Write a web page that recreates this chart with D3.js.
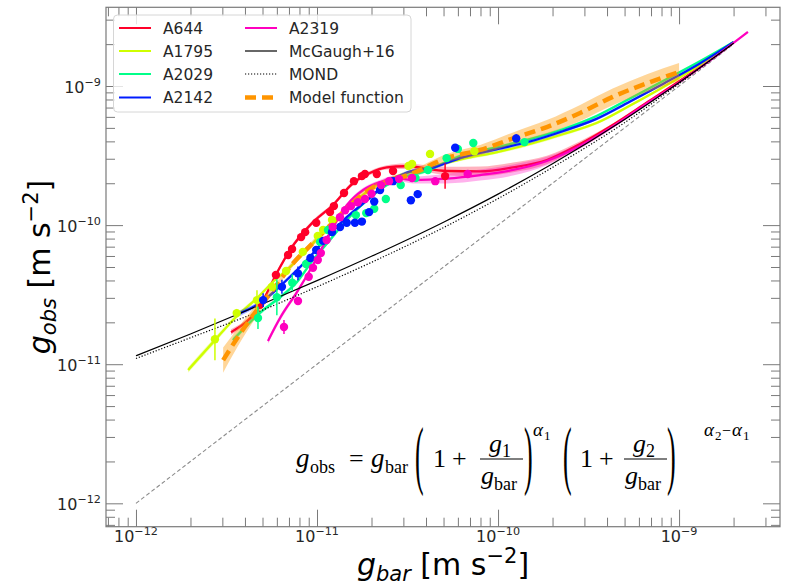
<!DOCTYPE html>
<html>
<head>
<meta charset="utf-8">
<script src="https://cdn.jsdelivr.net/npm/d3@7"></script>
<style>
  body { margin: 0; background: #fff; }
  svg { display: block; font-family: "DejaVu Sans", sans-serif; }
</style>
</head>
<body>
<div id="chart"></div>
<script>
// ---- data (gbar, gobs in m s^-2) ----
const clusterNames = ["A644", "A1795", "A2029", "A2142", "A2319"];
const clusterColors = ["#ff0029", "#cfff00", "#00ff89", "#001cff", "#ff00bf"];

// points: [gbar, gobs, error (dex)]
const a644Points = [
  [4.84e-12, 2.67e-11, 0], [5.93e-12, 4.38e-11, 0], [6.92e-12, 6.10e-11, 0],
  [7.28e-12, 6.73e-11, 0], [8.17e-12, 8.2e-11, 0], [8.6e-12, 8.9e-11, 0],
  [9.9e-12, 1.04e-10, 0], [1.18e-11, 1.24e-10, 0], [1.24e-11, 1.37e-10, 0],
  [1.41e-11, 1.70e-10, 0], [1.60e-11, 2.07e-10, 0], [1.77e-11, 2.25e-10, 0],
  [1.84e-11, 2.33e-10, 0], [2.14e-11, 2.33e-10, 0], [2.63e-11, 2.45e-10, 0],
  [5.1e-11, 2.25e-10, 0.09]
];
const a1795Points = [
  [2.73e-12, 1.51e-11, 0.15], [3.6e-12, 2.33e-11, 0.03], [4.66e-12, 2.89e-11, 0.07],
  [5.64e-12, 3.6e-11, 0], [6.75e-12, 4.68e-11, 0], [8.35e-12, 6.42e-11, 0],
  [1.01e-11, 8.35e-11, 0], [1.08e-11, 9.23e-11, 0], [1.21e-11, 1.09e-10, 0],
  [3.2e-11, 2.66e-10, 0], [3.35e-11, 2.75e-10, 0], [4.21e-11, 3.25e-10, 0],
  [7.4e-11, 3.4e-10, 0]
];
const a2029Points = [
  [4.72e-12, 2.15e-11, 0.08], [6.0e-12, 3.03e-11, 0.13], [7.3e-12, 3.85e-11, 0.06],
  [8.7e-12, 5.26e-11, 0], [1.04e-11, 7.55e-11, 0], [1.15e-11, 9.23e-11, 0],
  [1.64e-11, 1.18e-10, 0], [1.87e-11, 1.22e-10, 0], [2.07e-11, 1.31e-10, 0],
  [2.4e-11, 1.54e-10, 0], [2.9e-11, 1.94e-10, 0], [3.5e-11, 2.18e-10, 0],
  [4.1e-11, 2.49e-10, 0], [5.2e-11, 3.03e-10, 0], [6.0e-11, 3.53e-10, 0],
  [7.3e-11, 3.89e-10, 0], [1.4e-10, 3.95e-10, 0]
];
const a2142Points = [
  [5.04e-12, 2.89e-11, 0.05], [6.4e-12, 3.6e-11, 0.05], [7.85e-12, 4.5e-11, 0.05],
  [9.2e-12, 5.8e-11, 0], [9.9e-12, 6.63e-11, 0], [1.08e-11, 7.7e-11, 0],
  [1.21e-11, 8.9e-11, 0], [1.34e-11, 9.7e-11, 0], [1.46e-11, 1.04e-10, 0],
  [1.62e-11, 1.04e-10, 0], [1.77e-11, 1.06e-10, 0], [1.94e-11, 1.24e-10, 0],
  [2.07e-11, 1.48e-10, 0], [2.23e-11, 1.79e-10, 0], [2.63e-11, 2.07e-10, 0],
  [3.3e-11, 1.51e-10, 0], [3.6e-11, 1.67e-10, 0], [5.8e-11, 3.6e-10, 0],
  [1.26e-10, 4.2e-10, 0.03]
];
const a2319Points = [
  [6.57e-12, 1.85e-11, 0.05], [7.85e-12, 2.85e-11, 0], [9.0e-12, 4.25e-11, 0],
  [9.5e-12, 4.93e-11, 0], [1.01e-11, 5.61e-11, 0], [1.05e-11, 6.3e-11, 0],
  [1.13e-11, 7.82e-11, 0], [1.22e-11, 9.7e-11, 0], [1.34e-11, 1.14e-10, 0],
  [1.43e-11, 1.28e-10, 0], [1.54e-11, 1.37e-10, 0], [1.68e-11, 1.46e-10, 0],
  [1.84e-11, 1.54e-10, 0], [2.0e-11, 1.68e-10, 0], [2.26e-11, 1.94e-10, 0],
  [2.5e-11, 2.07e-10, 0], [2.84e-11, 2.15e-10, 0], [3.35e-11, 2.18e-10, 0],
  [4.5e-11, 2.07e-10, 0], [6.8e-11, 2.33e-10, 0]
];

// fitted curves: [gbar, gobs, band half-width (dex)]
const a644Curve = [
  [3.35e-12, 1.70e-11, 0.02], [4.84e-12, 2.62e-11, 0.015], [6.0e-12, 4.53e-11, 0.015],
  [7.1e-12, 6.63e-11, 0.015], [9.5e-12, 1.05e-10, 0.015], [1.22e-11, 1.39e-10, 0.015],
  [1.58e-11, 2.0e-10, 0.015], [1.96e-11, 2.37e-10, 0.015], [2.43e-11, 2.6e-10, 0.015],
  [3.06e-11, 2.65e-10, 0.02], [5.2e-11, 2.45e-10, 0.03], [7.96e-11, 2.43e-10, 0.035],
  [1.21e-10, 2.6e-10, 0.035], [1.86e-10, 2.94e-10, 0.03], [2.84e-10, 3.83e-10, 0.02],
  [4.3e-10, 5.25e-10, 0.01], [6.7e-10, 7.67e-10, 0.008], [1.01e-9, 1.09e-9, 0.005],
  [2.0e-9, 2.07e-9, 0.003]
];
const a1795Curve = [
  [1.94e-12, 9.08e-12, 0.02], [2.73e-12, 1.49e-11, 0.02], [3.66e-12, 2.26e-11, 0.015],
  [4.66e-12, 2.98e-11, 0.015], [5.7e-12, 3.9e-11, 0.012], [7.1e-12, 5.0e-11, 0.012],
  [8.8e-12, 6.63e-11, 0.012], [1.08e-11, 8.9e-11, 0.012], [1.34e-11, 1.18e-10, 0.012],
  [1.73e-11, 1.59e-10, 0.012], [2.23e-11, 2.0e-10, 0.012], [2.88e-11, 2.29e-10, 0.012],
  [3.71e-11, 2.49e-10, 0.012], [6.4e-11, 2.99e-10, 0.012], [9.9e-11, 3.35e-10, 0.012],
  [1.5e-10, 3.83e-10, 0.012], [2.3e-10, 4.52e-10, 0.012], [3.5e-10, 5.42e-10, 0.01],
  [5.3e-10, 7.18e-10, 0.01], [8.2e-10, 9.84e-10, 0.008], [1.31e-9, 1.42e-9, 0.005],
  [2.0e-9, 2.07e-9, 0.003]
];
const a2029Curve = [
  [3.43e-12, 1.49e-11, 0.02], [5.04e-12, 2.45e-11, 0.015], [6.25e-12, 3.03e-11, 0.015],
  [7.75e-12, 3.9e-11, 0.015], [9.5e-12, 5.61e-11, 0.012], [1.18e-11, 7.82e-11, 0.012],
  [1.46e-11, 1.09e-10, 0.012], [1.89e-11, 1.51e-10, 0.012], [2.43e-11, 1.94e-10, 0.012],
  [3.1e-11, 2.25e-10, 0.012], [3.71e-11, 2.37e-10, 0.012], [6.4e-11, 3.19e-10, 0.012],
  [9.9e-11, 3.64e-10, 0.012], [1.5e-10, 4.15e-10, 0.012], [2.3e-10, 4.91e-10, 0.012],
  [3.5e-10, 6.08e-10, 0.01], [5.3e-10, 8.07e-10, 0.01], [8.2e-10, 1.09e-9, 0.008],
  [1.31e-9, 1.51e-9, 0.005], [2.0e-9, 2.07e-9, 0.003]
];
const a2142Curve = [
  [3.76e-12, 2.33e-11, 0.02], [4.84e-12, 2.75e-11, 0.015], [6.8e-12, 4.03e-11, 0.015],
  [8.8e-12, 5.61e-11, 0.012], [1.14e-11, 8.2e-11, 0.012], [1.46e-11, 1.14e-10, 0.012],
  [1.89e-11, 1.51e-10, 0.012], [2.43e-11, 2.0e-10, 0.012], [3.1e-11, 2.37e-10, 0.012],
  [4.4e-11, 2.6e-10, 0.012], [6.4e-11, 3.08e-10, 0.012], [9.9e-11, 3.52e-10, 0.012],
  [1.5e-10, 3.99e-10, 0.012], [2.3e-10, 4.75e-10, 0.012], [3.5e-10, 5.8e-10, 0.01],
  [5.3e-10, 7.67e-10, 0.01], [8.2e-10, 1.04e-9, 0.008], [1.31e-9, 1.46e-9, 0.005],
  [2.0e-9, 2.07e-9, 0.003]
];
const a2319Curve = [
  [5.36e-12, 1.47e-11, 0.02], [6.25e-12, 2.15e-11, 0.02], [7.75e-12, 3.3e-11, 0.015],
  [9.5e-12, 5.17e-11, 0.015], [1.18e-11, 8.8e-11, 0.015], [1.46e-11, 1.39e-10, 0.015],
  [1.8e-11, 1.79e-10, 0.015], [2.23e-11, 2.04e-10, 0.015], [2.75e-11, 2.18e-10, 0.02],
  [3.4e-11, 2.11e-10, 0.025], [5.2e-11, 2.16e-10, 0.035], [7.96e-11, 2.29e-10, 0.04],
  [1.21e-10, 2.49e-10, 0.04], [1.86e-10, 2.89e-10, 0.03], [2.84e-10, 3.7e-10, 0.02],
  [4.3e-10, 5.11e-10, 0.012], [6.7e-10, 7.55e-10, 0.008], [1.01e-9, 1.07e-9, 0.005],
  [2.0e-9, 2.04e-9, 0.003], [2.4e-9, 2.45e-9, 0.003]
];

// McGaugh+16 RAR and MOND curves
const mcgaughGbar = [1e-12, 2e-12, 5e-12, 1e-11, 2e-11, 5e-11, 1e-10, 2e-10, 5e-10, 1e-9, 2e-9];
const mcgaughGobs = [1.15e-11, 1.65e-11, 2.71e-11, 3.99e-11, 5.97e-11, 1.05e-10, 1.67e-10, 2.76e-10, 5.75e-10, 1.06e-9, 2.03e-9];
const mondGbar = [1e-12, 2e-12, 5e-12, 1e-11, 2e-11, 5e-11, 1e-10, 2e-10, 5e-10, 1e-9, 2e-9];
const mondGobs = [1.1e-11, 1.55e-11, 2.45e-11, 3.6e-11, 5.4e-11, 9.6e-11, 1.55e-10, 2.6e-10, 5.45e-10, 1.04e-9, 2.03e-9];
// 1:1 line
const unityGbar = [1e-12, 2e-9];
const unityGobs = [1e-12, 2e-9];

// model function: [gbar, gobs, band half-width (dex)]
const modelCurve = [
  [3.03e-12, 1.07e-11, 0.09], [3.66e-12, 1.57e-11, 0.065], [4.66e-12, 2.45e-11, 0.043],
  [5.7e-12, 3.41e-11, 0.025], [7.4e-12, 5.34e-11, 0.022], [9.5e-12, 7.44e-11, 0.022],
  [1.22e-11, 1.04e-10, 0.022], [1.58e-11, 1.45e-10, 0.022], [2.03e-11, 1.86e-10, 0.022],
  [2.63e-11, 2.11e-10, 0.022], [3.4e-11, 2.37e-10, 0.025], [5.2e-11, 3.03e-10, 0.03],
  [7.96e-11, 3.47e-10, 0.036], [1.21e-10, 4.2e-10, 0.043], [1.86e-10, 5.07e-10, 0.05],
  [2.84e-10, 6.4e-10, 0.058], [4.3e-10, 8.35e-10, 0.06], [6.7e-10, 1.05e-9, 0.065],
  [1.0e-9, 1.26e-9, 0.065]
];

const majorTicks = [1e-12, 1e-11, 1e-10, 1e-9];

// ---- layout ----
const width = 787;
const height = 586;
const frame = { left: 106, right: 780, top: 7.3, bottom: 526.7 };

const svg = d3.select("#chart").append("svg")
  .attr("width", width)
  .attr("height", height);

const x = d3.scaleLog().domain([6.83e-13, 3.61e-9]).range([frame.left, frame.right]);
const y = d3.scaleLog().domain([6.79e-13, 3.68e-9]).range([frame.bottom, frame.top]);

svg.append("clipPath").attr("id", "clip")
  .append("rect")
  .attr("x", frame.left).attr("y", frame.top)
  .attr("width", frame.right - frame.left).attr("height", frame.bottom - frame.top);

const plot = svg.append("g").attr("clip-path", "url(#clip)");

const clusters = clusterNames.map((name, i) => ({
  name,
  color: clusterColors[i],
  points: [a644Points, a1795Points, a2029Points, a2142Points, a2319Points][i],
  curve: [a644Curve, a1795Curve, a2029Curve, a2142Curve, a2319Curve][i]
}));

const line = d3.line()
  .x(d => x(d[0]))
  .y(d => y(d[1]))
  .curve(d3.curveMonotoneX);

const band = d3.area()
  .x(d => x(d[0]))
  .y0(d => y(d[1] * Math.pow(10, -d[2])))
  .y1(d => y(d[1] * Math.pow(10, d[2])))
  .curve(d3.curveMonotoneX);

// 1:1
plot.append("path")
  .datum(d3.zip(unityGbar, unityGobs))
  .attr("d", line)
  .attr("fill", "none")
  .attr("stroke", "#8c8c8c")
  .attr("stroke-width", 1.1)
  .attr("stroke-dasharray", "4,2.5");

// cluster bands and fits
clusters.forEach(c => {
  plot.append("path")
    .datum(c.curve)
    .attr("d", band)
    .attr("fill", c.color)
    .attr("fill-opacity", 0.3);
  plot.append("path")
    .datum(c.curve)
    .attr("d", line)
    .attr("fill", "none")
    .attr("stroke", c.color)
    .attr("stroke-width", 2.3);
});

// McGaugh+16
plot.append("path")
  .datum(d3.zip(mcgaughGbar, mcgaughGobs))
  .attr("d", line)
  .attr("fill", "none")
  .attr("stroke", "#000")
  .attr("stroke-width", 1.2);

// MOND
plot.append("path")
  .datum(d3.zip(mondGbar, mondGobs))
  .attr("d", line)
  .attr("fill", "none")
  .attr("stroke", "#000")
  .attr("stroke-width", 1.2)
  .attr("stroke-dasharray", "1.2,1.8");

// model function
plot.append("path")
  .datum(modelCurve)
  .attr("d", band)
  .attr("fill", "#ff9900")
  .attr("fill-opacity", 0.4);
plot.append("path")
  .datum(modelCurve)
  .attr("d", line)
  .attr("fill", "none")
  .attr("stroke", "#ff9500")
  .attr("stroke-width", 4.5)
  .attr("stroke-dasharray", "11,6");

// data points with error bars
clusters.forEach(c => {
  plot.selectAll(null)
    .data(c.points.filter(d => d[2] > 0))
    .enter().append("line")
    .attr("x1", d => x(d[0])).attr("x2", d => x(d[0]))
    .attr("y1", d => y(d[1] * Math.pow(10, -d[2])))
    .attr("y2", d => y(d[1] * Math.pow(10, d[2])))
    .attr("stroke", c.color)
    .attr("stroke-width", 1.5);
  plot.selectAll(null)
    .data(c.points)
    .enter().append("circle")
    .attr("cx", d => x(d[0]))
    .attr("cy", d => y(d[1]))
    .attr("r", 4.2)
    .attr("fill", c.color);
});

// ---- axes (ticks point inward on all four sides) ----
function minorTicks(scale) {
  const [a, b] = scale.domain();
  const out = [];
  for (let e = -13; e <= -9; e++) {
    for (let m = 2; m <= 9; m++) {
      const v = m * Math.pow(10, e);
      if (v >= a && v <= b) out.push(v);
    }
  }
  return out;
}

function powLabel(sel) {
  sel.each(function (d) {
    const e = Math.round(Math.log10(d));
    const t = d3.select(this).text(null);
    t.append("tspan").text("10");
    t.append("tspan")
      .attr("dy", -7)
      .style("font-size", "11.2px")
      .text("\u2212" + Math.abs(e));
  });
}

function styleAxis(g) {
  g.select(".domain").remove();
  g.selectAll(".tick line").attr("stroke", "#7a7a7a").attr("stroke-width", 1);
}

const axes = [
  { gen: d3.axisBottom(x), t: `translate(0,${frame.bottom})`, scale: x },
  { gen: d3.axisTop(x), t: `translate(0,${frame.top})`, scale: x },
  { gen: d3.axisLeft(y), t: `translate(${frame.left},0)`, scale: y },
  { gen: d3.axisRight(y), t: `translate(${frame.right},0)`, scale: y }
];

axes.forEach(a => {
  svg.append("g")
    .attr("transform", a.t)
    .call(a.gen.tickValues(minorTicks(a.scale)).tickSize(-9).tickFormat(() => ""))
    .call(styleAxis);

  svg.append("g")
    .attr("transform", a.t)
    .call(a.gen.tickValues(majorTicks).tickSize(-17).tickFormat(() => ""))
    .call(styleAxis);
});

// tick labels
svg.selectAll(null)
  .data(majorTicks)
  .enter().append("text")
  .attr("x", d => x(d))
  .attr("y", frame.bottom + 15)
  .attr("text-anchor", "middle")
  .attr("fill", "#262626")
  .style("font-size", "16px")
  .call(powLabel);

svg.selectAll(null)
  .data(majorTicks)
  .enter().append("text")
  .attr("x", frame.left - 5)
  .attr("y", d => y(d) + 7)
  .attr("text-anchor", "end")
  .attr("fill", "#262626")
  .style("font-size", "16px")
  .call(powLabel);

// frame
svg.append("rect")
  .attr("x", frame.left).attr("y", frame.top)
  .attr("width", frame.right - frame.left)
  .attr("height", frame.bottom - frame.top)
  .attr("fill", "none")
  .attr("stroke", "#7a7a7a")
  .attr("stroke-width", 1.2);

// axis labels
function axisLabel(t, sub) {
  t.append("tspan").style("font-style", "italic").text("g");
  t.append("tspan").style("font-style", "italic").style("font-size", "21px").attr("dy", 6).text(sub);
  t.append("tspan").attr("dy", -6).text(" [m s");
  t.append("tspan").style("font-size", "21px").attr("dy", -12).text("\u22122");
  t.append("tspan").attr("dy", 12).text("]");
}

svg.append("text")
  .attr("x", (frame.left + frame.right) / 2)
  .attr("y", 575)
  .attr("text-anchor", "middle")
  .attr("fill", "#000")
  .style("font-size", "30px")
  .call(axisLabel, "bar");

svg.append("text")
  .attr("transform", `translate(50,${(frame.top + frame.bottom) / 2}) rotate(-90)`)
  .attr("text-anchor", "middle")
  .attr("fill", "#000")
  .style("font-size", "30px")
  .call(axisLabel, "obs");

// ---- legend ----
const legend = svg.append("g");
legend.append("rect")
  .attr("x", 113.5).attr("y", 15)
  .attr("width", 297.5).attr("height", 97)
  .attr("rx", 4)
  .attr("fill", "#fff").attr("fill-opacity", 0.8)
  .attr("stroke", "#d6d6d6");

const legendItems = [
  { label: "A644", color: clusterColors[0], col: 0, row: 0 },
  { label: "A1795", color: clusterColors[1], col: 0, row: 1 },
  { label: "A2029", color: clusterColors[2], col: 0, row: 2 },
  { label: "A2142", color: clusterColors[3], col: 0, row: 3 },
  { label: "A2319", color: clusterColors[4], col: 1, row: 0 },
  { label: "McGaugh+16", color: "#000", col: 1, row: 1, w: 1.2 },
  { label: "MOND", color: "#000", col: 1, row: 2, w: 1.2, dash: "1.2,1.8" },
  { label: "Model function", color: "#ff9500", col: 1, row: 3, w: 4.5, dash: "11,6" }
];
const colX = [119, 245];
const rowY = [28, 51, 74, 97.5];

legendItems.forEach(it => {
  const lx = colX[it.col];
  const ly = rowY[it.row];
  legend.append("line")
    .attr("x1", lx).attr("x2", lx + 32)
    .attr("y1", ly).attr("y2", ly)
    .attr("stroke", it.color)
    .attr("stroke-width", it.w || 2)
    .attr("stroke-dasharray", it.dash || null);
  legend.append("text")
    .attr("x", lx + 44)
    .attr("y", ly + 5.5)
    .attr("fill", "#262626")
    .style("font-size", "15.5px")
    .text(it.label);
});

// ---- formula ----
const f = svg.append("g")
  .style("font-family", "'Liberation Serif', 'DejaVu Serif', serif")
  .attr("fill", "#000");

function piece(px, py, txt, size, italic) {
  f.append("text")
    .attr("x", px).attr("y", py)
    .style("font-size", size + "px")
    .style("font-style", italic ? "italic" : "normal")
    .text(txt);
}
function paren(px, txt) {
  f.append("text")
    .attr("transform", `translate(${px},480) scale(1,2.9)`)
    .style("font-size", "26px")
    .text(txt);
}
function frac(cx, sub) {
  piece(cx - 12, 452, "g", 26, true);
  piece(cx + 1, 457, sub, 18, false);
  f.append("line")
    .attr("x1", cx - 21).attr("x2", cx + 22)
    .attr("y1", 459).attr("y2", 459)
    .attr("stroke", "#000").attr("stroke-width", 1.2);
  piece(cx - 20, 484, "g", 26, true);
  piece(cx - 7, 490, "bar", 18, false);
}

piece(296, 467, "g", 27, true);
piece(310, 473, "obs", 18, false);
piece(349, 467, "=", 26, false);
piece(371, 467, "g", 27, true);
piece(385, 473, "bar", 18, false);
paren(415, "(");
piece(433, 467, "1", 26, false);
piece(452, 467, "+", 26, false);
frac(501, "1");
paren(524, ")");
piece(533, 436, "\u03b1", 19, true);
piece(544, 440, "1", 13, false);
paren(563, "(");
piece(580, 467, "1", 26, false);
piece(599, 467, "+", 26, false);
frac(645, "2");
paren(667, ")");
piece(704, 436, "\u03b1", 19, true);
piece(715, 440, "2", 13, false);
piece(722, 436, "\u2212", 16, false);
piece(732, 436, "\u03b1", 19, true);
piece(743, 440, "1", 13, false);
</script>
</body>
</html>
